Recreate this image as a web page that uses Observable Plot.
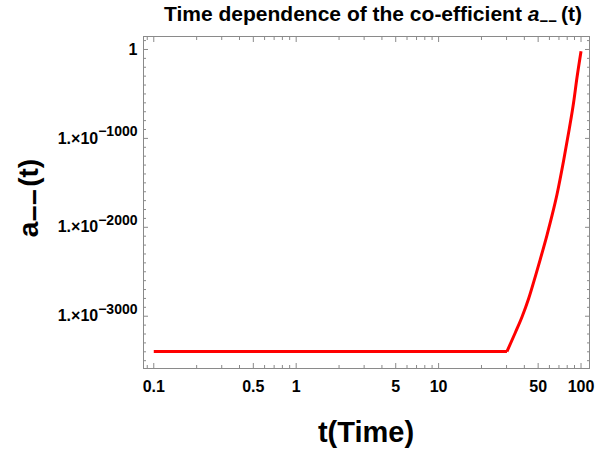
<!DOCTYPE html>
<html>
<head>
<meta charset="utf-8">
<script src="https://cdn.jsdelivr.net/npm/d3@7"></script>
<script src="https://cdn.jsdelivr.net/npm/@observablehq/plot@0.6"></script>
<style>
  body { margin: 0; background: #fff; }
  #chart { width: 606px; height: 457px; }
</style>
</head>
<body>
<div id="chart"></div>
<script>
// time values t (log axis)
const tValues = [0.1, 30.2, 34.6, 38.5, 42.9, 47.8, 51.8, 57.7, 62.6, 67.8, 75.5, 82.8, 88.7, 93.7, 100];
// log10 of a--(t)
const log10A = [-3397, -3397, -3183, -3009, -2801, -2551, -2357, -2087, -1867, -1631, -1249, -889, -596, -315, -20];

// ticks
const xMajor = [0.1, 0.5, 1, 5, 10, 50, 100];
const xMajorLabels = ["0.1", "0.5", "1", "5", "10", "50", "100"];
const xMinor = [0.09, 0.2, 0.3, 0.4, 0.6, 0.7, 0.8, 0.9, 2, 3, 4, 6, 7, 8, 9, 20, 30, 40, 60, 70, 80, 90];
const yMajor = [0, -1000, -2000, -3000];
const yMinor = [100, -100, -200, -300, -400, -500, -600, -700, -800, -900,
  -1100, -1200, -1300, -1400, -1500, -1600, -1700, -1800, -1900,
  -2100, -2200, -2300, -2400, -2500, -2600, -2700, -2800, -2900,
  -3100, -3200, -3300, -3400, -3500];

const titleText = "Time dependence of the co-efficient ";
const xLabel = "t(Time)";

const data = tValues.map((t, i) => ({t, logA: log10A[i]}));
const flat = data.slice(0, 2);
const rise = data.slice(1);
const font = '"Liberation Sans", Arial, Helvetica, sans-serif';
const W = 606, H = 457, mL = 143, mR = 17, mT = 36, mB = 89;
const gray = "#8a8a8a";

const yFmt = d => d === 0 ? "1" : "1.\u00d710^\u2212" + Math.abs(d);

const plot = Plot.plot({
  width: W, height: H,
  marginTop: mT, marginBottom: mB, marginLeft: mL, marginRight: mR,
  style: {fontFamily: font, fontWeight: "bold", fontSize: "16px", color: "black", background: "white"},
  x: {type: "log", domain: [0.0847, 114.7], axis: null},
  y: {domain: [-3588, 146], axis: null},
  marks: [
    Plot.frame({stroke: gray}),
    Plot.axisX(xMajor, {anchor: "bottom", tickSize: -5, fill: "none", stroke: gray, label: null}),
    Plot.axisX(xMajor, {anchor: "top", tickSize: -5, fill: "none", stroke: gray, label: null}),
    Plot.axisX(xMinor, {anchor: "bottom", tickSize: -3, fill: "none", stroke: gray, label: null}),
    Plot.axisX(xMinor, {anchor: "top", tickSize: -3, fill: "none", stroke: gray, label: null}),
    Plot.axisY(yMajor, {anchor: "left", tickSize: -5, fill: "none", stroke: gray, label: null}),
    Plot.axisY(yMajor, {anchor: "right", tickSize: -5, fill: "none", stroke: gray, label: null}),
    Plot.axisY(yMinor, {anchor: "left", tickSize: -3, fill: "none", stroke: gray, label: null}),
    Plot.axisY(yMinor, {anchor: "right", tickSize: -3, fill: "none", stroke: gray, label: null}),
    Plot.text(xMajor, {x: d => d, frameAnchor: "bottom", lineAnchor: "top", dy: 12,
      text: (d, i) => xMajorLabels[i], fill: "black", fontSize: 16, fontWeight: "bold"}),
    Plot.axisY(yMajor, {anchor: "left", tickSize: 0, tickPadding: 6, tickFormat: yFmt, label: null, fill: "black"}),
    Plot.line(flat, {x: "t", y: "logA", stroke: "#ff0000", strokeWidth: 3, strokeLinecap: "butt", strokeLinejoin: "round"}),
    Plot.line(rise, {x: "t", y: "logA", stroke: "#ff0000", strokeWidth: 3, strokeLinecap: "butt", strokeLinejoin: "round", curve: "monotone-x"})
  ]
});

const svg = d3.select(plot);
// superscript exponents on y tick labels
svg.selectAll("text").each(function() {
  const s = this.textContent;
  if (s.includes("^")) {
    const [base, exp] = s.split("^");
    this.textContent = "";
    const t = d3.select(this);
    t.append("tspan").text(base);
    t.append("tspan").attr("dy", "-0.55em").attr("font-size", "14px").text(exp);
  }
});

const cx = mL + (W - mL - mR) / 2;
// title
const title = svg.append("text")
  .attr("x", cx + 7).attr("y", 20.5)
  .attr("text-anchor", "middle")
  .attr("font-family", font).attr("font-weight", "bold").attr("font-size", 21)
  .attr("fill", "black");
title.append("tspan").text(titleText);
title.append("tspan").attr("font-style", "italic").text("a");
title.append("tspan").attr("font-size", 15).attr("dy", 5).text("\u2212\u2212");
title.append("tspan").attr("dy", -5).attr("dx", 4).text("(t)");

// x label
svg.append("text")
  .attr("x", cx).attr("y", 442)
  .attr("text-anchor", "middle")
  .attr("font-family", font).attr("font-weight", "bold").attr("font-size", 29)
  .attr("fill", "black")
  .text(xLabel);

// y label
const cy = mT + (H - mT - mB) / 2;
const yl = svg.append("text")
  .attr("transform", `translate(38,${cy - 4}) rotate(-90)`)
  .attr("text-anchor", "middle")
  .attr("font-family", font).attr("font-weight", "bold").attr("font-size", 28)
  .attr("fill", "black");
yl.append("tspan").text("a");
yl.append("tspan").attr("dy", 6).text("\u2212\u2212");
yl.append("tspan").attr("dy", -6).attr("dx", 2).text("(t)");

document.getElementById("chart").appendChild(plot);
</script>
</body>
</html>
